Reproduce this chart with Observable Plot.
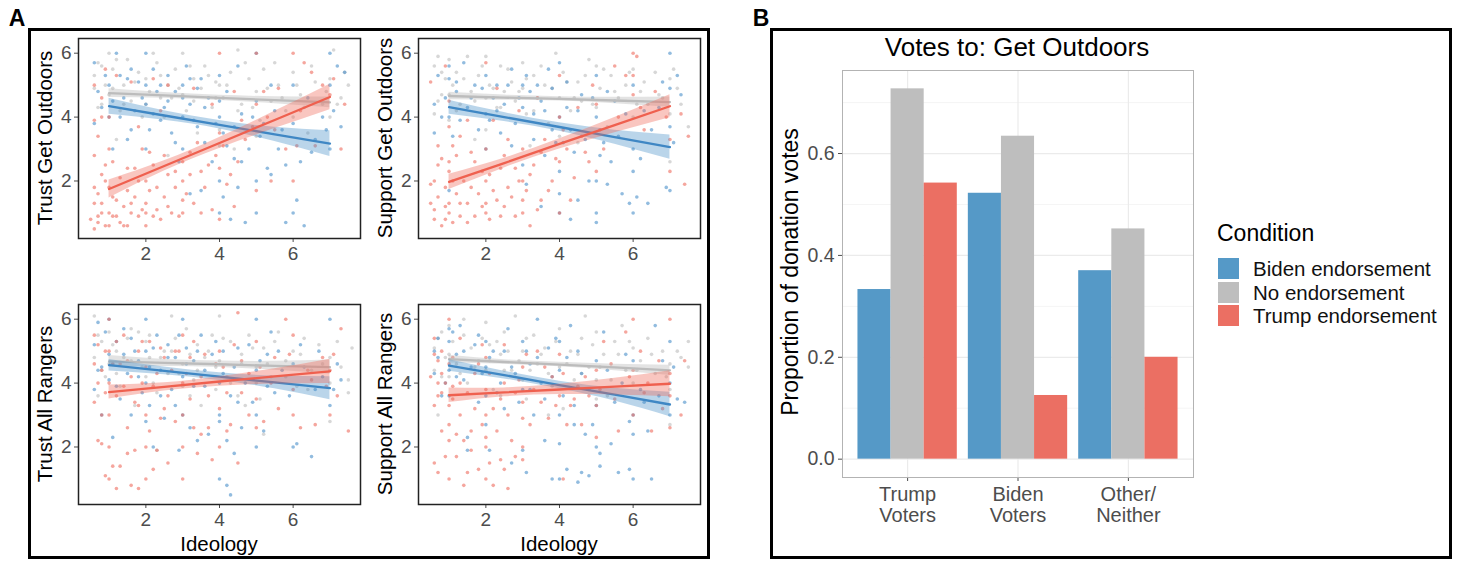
<!DOCTYPE html>
<html><head><meta charset="utf-8">
<script src="https://cdn.jsdelivr.net/npm/d3@7"></script>
<script src="https://cdn.jsdelivr.net/npm/@observablehq/plot@0.6"></script>
<style>
body{margin:0;background:#fff;font-family:"Liberation Sans",Arial,sans-serif;}
#root{position:relative;width:1460px;height:561px;overflow:hidden;background:#fff;}
.box{position:absolute;border:3px solid #000;box-sizing:border-box;}
.lab{position:absolute;white-space:nowrap;color:#111;line-height:1;}
.rot{transform:translate(-50%,-50%) rotate(-90deg);}
.ctr{transform:translate(-50%,-50%);}
.plot{position:absolute;}
</style></head><body><div id="root"></div>
<script>
// ---------- Panel A data ----------
const conditions = ["Biden endorsement", "No endorsement", "Trump endorsement"];
const xTicksA = [2, 4, 6];
const yTicksA = [2, 4, 6];
const fitX = [1, 2.5, 4, 5.5, 7];

// Trust Get Outdoors
const tgoBiden = [[0.6,5.7],[0.7,4.8],[0.6,3.8],[0.8,4.3],[1.0,5.0],[1.0,4.0],[1.2,6.0],[1.3,5.3],[1.4,4.6],[1.5,5.2],[1.6,3.6],[1.7,4.2],[1.8,5.1],[2.0,6.0],[2.0,5.0],[2.0,4.4],[2.0,3.0],[2.2,5.5],[2.3,4.8],[2.4,3.9],[2.5,4.3],[2.6,5.3],[2.7,3.5],[2.8,4.8],[3.0,5.0],[3.0,4.0],[3.0,3.0],[3.1,5.6],[3.2,4.4],[3.4,3.7],[3.5,5.2],[3.6,3.2],[3.7,4.6],[3.8,2.6],[4.0,5.3],[4.0,4.0],[4.0,2.0],[4.0,1.0],[4.1,3.5],[4.2,4.8],[4.3,0.8],[4.4,2.7],[4.5,1.8],[4.6,4.1],[4.7,0.7],[4.8,3.0],[5.0,6.0],[5.0,4.5],[5.0,2.0],[5.0,1.0],[5.1,3.4],[5.3,2.4],[5.5,4.2],[5.6,3.0],[5.8,2.5],[6.0,5.0],[6.0,3.8],[6.0,1.0],[6.1,1.4],[6.3,0.6],[6.4,4.6],[6.6,3.3],[6.8,4.0],[7.0,6.0],[7.0,3.0],[7.1,4.2],[7.2,5.6],[7.4,5.4],[7.3,3.7],[1.1,3.0],[2.9,2.6],[3.5,1.7],[4.5,5.6],[5.4,2.2],[0.9,5.3],[1.1,4.5],[1.3,4.0],[1.5,3.3],[1.6,5.5],[1.9,4.6],[2.1,3.6],[2.2,4.1],[2.4,5.0],[2.6,4.5],[2.8,3.2],[3.0,4.6],[3.2,5.2],[3.3,3.9],[3.4,4.9],[3.6,4.3],[3.9,3.8],[4.0,4.5],[4.2,3.1],[4.4,3.7],[4.6,2.6],[4.9,4.0],[5.2,3.8],[5.4,5.0],[5.7,3.6],[6.2,2.6],[6.5,2.9],[6.9,3.6],[7.0,5.0],[3.2,1.6],[4.1,1.5],[5.8,0.7]];
const tgoNone = [[0.6,5.3],[0.7,5.7],[0.8,4.4],[0.6,4.9],[0.9,5.0],[1.0,6.0],[1.0,4.7],[1.1,5.5],[1.3,4.2],[1.4,5.0],[1.5,5.8],[1.6,4.5],[1.8,5.4],[1.9,4.0],[2.0,5.2],[2.1,4.8],[2.2,6.0],[2.4,5.3],[2.5,4.0],[2.6,5.0],[2.7,4.6],[2.8,5.5],[3.0,6.0],[3.0,4.7],[3.1,4.2],[3.3,5.2],[3.4,3.5],[3.5,4.9],[3.6,5.6],[3.8,4.3],[3.9,5.1],[4.0,3.6],[4.0,5.0],[4.1,4.6],[4.3,5.4],[4.4,3.0],[4.5,6.1],[4.6,4.4],[4.8,5.2],[5.0,4.8],[5.1,3.9],[5.2,5.5],[5.4,4.5],[5.6,5.0],[5.8,4.2],[6.0,5.4],[6.0,4.0],[6.2,4.7],[6.4,3.5],[6.6,5.1],[6.8,4.4],[7.0,5.2],[7.0,4.0],[7.1,6.1],[7.3,4.6],[7.5,5.0],[2.6,2.8],[1.2,3.3],[0.7,4.3],[0.8,5.6],[1.1,4.9],[1.2,5.8],[1.4,4.4],[1.7,5.1],[2.0,4.4],[2.3,5.7],[2.4,4.6],[2.9,4.9],[3.2,5.6],[3.3,4.5],[3.7,5.3],[3.9,4.6],[4.2,5.0],[4.5,4.2],[4.7,5.7],[4.9,4.3],[5.3,4.9],[5.5,5.7],[5.7,4.6],[6.1,5.0],[6.3,4.3],[6.5,5.6],[6.9,4.8],[7.2,4.4],[7.4,5.4],[4.0,3.1],[5.0,3.4]];
const tgoTrump = [[0.6,0.5],[0.7,0.7],[0.8,1.0],[0.6,1.3],[0.9,0.6],[0.7,1.6],[0.8,2.2],[0.6,2.8],[0.9,2.5],[0.7,3.4],[0.6,3.9],[0.8,4.6],[0.6,5.0],[1.0,0.6],[1.0,1.0],[1.0,1.8],[1.0,3.0],[1.0,4.0],[1.1,0.9],[1.2,1.4],[1.3,0.7],[1.3,2.1],[1.4,1.2],[1.5,1.7],[1.5,0.6],[1.6,1.0],[1.7,2.4],[1.7,1.5],[1.8,0.9],[1.9,3.0],[1.6,5.1],[2.0,0.6],[2.0,1.0],[2.0,1.3],[2.0,2.0],[2.1,1.7],[2.2,2.5],[2.3,1.1],[2.4,0.8],[2.5,1.5],[2.6,2.2],[2.7,1.0],[2.8,1.8],[2.9,0.9],[3.0,1.0],[3.0,2.0],[3.0,2.6],[3.1,1.6],[3.2,2.9],[3.3,1.3],[3.5,2.3],[3.6,1.8],[3.8,1.1],[3.9,2.8],[4.0,0.8],[4.0,2.4],[4.1,3.1],[4.2,1.9],[4.4,1.2],[4.5,2.6],[4.7,3.3],[4.9,3.7],[5.0,1.7],[5.2,4.8],[5.4,2.0],[5.6,4.9],[5.8,3.0],[6.0,6.0],[6.0,2.0],[6.1,3.1],[6.3,5.7],[6.5,5.4],[6.8,5.0],[7.0,4.7],[7.1,5.2],[7.3,3.0],[7.4,4.4],[5.0,6.0],[4.0,6.0],[2.4,4.2],[1.8,3.7],[2.6,5.0],[3.8,4.4],[4.4,4.8],[5.3,4.0],[1.2,5.3],[2.2,5.2],[3.3,4.9],[0.9,5.5],[0.5,0.8],[0.6,1.8],[0.7,0.9],[0.8,1.3],[0.9,2.0],[1.1,1.5],[1.2,0.9],[1.4,0.6],[1.5,2.4],[1.6,1.3],[1.8,2.0],[1.9,1.1],[2.1,2.9],[2.2,0.9],[2.3,1.8],[2.5,2.8],[2.6,1.2],[2.8,2.3],[3.0,1.4],[3.2,2.2],[3.4,3.2],[3.5,1.0],[3.7,2.5],[4.0,3.5],[4.3,2.2],[4.6,3.9],[5.0,4.4],[5.5,3.6],[6.2,4.2],[6.6,3.1],[0.8,4.0],[1.1,2.6]];
const tgoFit = [[4.34,4.05,3.76,3.46,3.17],[4.75,4.68,4.60,4.53,4.46],[1.75,2.47,3.19,3.91,4.63]];
const tgoHw  = [[0.25,0.15,0.13,0.22,0.40],[0.14,0.09,0.08,0.11,0.17],[0.28,0.16,0.17,0.27,0.40]];

// Support Get Outdoors
const sgoBiden = [[0.6,4.4],[0.6,3.5],[0.7,5.3],[0.8,4.0],[1.0,5.6],[1.0,5.2],[1.0,4.0],[1.0,1.7],[1.2,4.8],[1.3,3.9],[1.4,5.7],[1.5,4.3],[1.7,5.0],[1.8,3.6],[2.0,5.3],[2.0,4.1],[2.0,3.0],[2.2,4.6],[2.3,5.0],[2.4,3.5],[2.5,4.4],[2.7,5.5],[2.8,3.8],[3.0,5.0],[3.0,4.3],[3.0,2.5],[3.1,1.9],[3.2,4.8],[3.3,3.3],[3.5,4.5],[3.6,2.8],[3.7,5.5],[3.8,3.6],[4.0,5.7],[4.0,4.0],[4.0,2.3],[4.0,1.0],[4.0,1.6],[4.1,3.2],[4.2,4.3],[4.3,0.8],[4.4,2.9],[4.5,1.4],[4.6,4.7],[4.8,2.0],[5.0,5.3],[5.0,4.0],[5.0,2.0],[5.0,1.0],[5.0,0.7],[5.2,3.2],[5.4,2.6],[5.5,4.5],[5.7,1.6],[5.9,1.3],[6.0,5.0],[6.0,3.0],[6.0,1.0],[6.0,2.3],[6.1,1.5],[6.3,4.2],[6.5,3.6],[6.8,5.1],[7.0,6.0],[7.0,4.9],[7.0,3.7],[7.0,1.7],[7.2,5.3],[7.3,4.7],[6.9,1.8],[0.9,4.6],[1.1,3.4],[1.2,5.1],[1.6,4.6],[1.9,4.9],[2.1,3.9],[2.3,4.2],[2.6,5.0],[2.7,3.1],[2.9,4.6],[3.1,5.3],[3.3,4.1],[3.4,5.0],[3.6,4.2],[3.8,4.9],[3.9,3.2],[4.2,5.1],[4.3,3.6],[4.5,4.2],[4.7,3.3],[4.9,4.6],[5.1,2.8],[5.3,4.8],[5.6,3.4],[5.8,4.1],[6.2,2.7],[6.4,1.3],[6.7,4.3],[7.1,3.2],[3.5,1.2],[5.3,1.9]];
const sgoNone = [[0.6,5.6],[0.6,4.1],[0.7,5.9],[0.8,4.7],[0.9,5.2],[1.0,5.8],[1.0,4.7],[1.0,3.9],[1.2,5.4],[1.3,4.4],[1.5,5.9],[1.6,4.8],[1.8,5.3],[2.0,5.9],[2.0,4.6],[2.1,5.0],[2.3,4.3],[2.4,5.6],[2.5,4.8],[2.7,5.1],[2.8,4.5],[3.0,5.7],[3.0,4.9],[3.1,4.1],[3.3,5.3],[3.4,4.6],[3.6,5.0],[3.7,3.8],[3.9,6.0],[4.0,4.6],[4.0,3.4],[4.1,5.4],[4.3,4.2],[4.5,5.1],[4.6,4.5],[4.8,5.8],[5.0,5.6],[5.0,4.3],[5.1,4.9],[5.3,3.7],[5.4,5.3],[5.6,4.6],[5.8,5.0],[6.0,4.0],[6.0,5.5],[6.2,4.8],[6.4,4.4],[6.6,5.4],[6.8,4.6],[7.0,5.2],[7.0,2.6],[7.0,4.1],[7.2,4.9],[7.5,3.7],[3.2,3.1],[1.7,3.3],[0.7,4.5],[0.8,5.4],[1.1,5.0],[1.2,4.2],[1.4,5.2],[1.7,4.5],[1.9,5.6],[2.2,4.9],[2.4,4.3],[2.6,5.5],[2.9,4.8],[3.1,5.2],[3.3,4.2],[3.5,5.6],[3.8,4.9],[4.2,5.1],[4.4,4.6],[4.7,5.3],[4.9,4.4],[5.2,5.5],[5.5,4.8],[5.9,5.4],[6.1,4.4],[6.3,5.1],[6.7,4.7],[7.1,5.5],[7.3,4.4],[4.5,3.2],[2.0,3.6]];
const sgoTrump = [[0.5,1.3],[0.6,1.1],[0.6,2.0],[0.7,2.5],[0.7,3.1],[0.5,5.1],[0.8,0.6],[0.9,0.8],[0.9,1.8],[1.0,1.0],[1.0,1.3],[1.0,2.3],[1.0,2.6],[1.0,3.7],[1.0,4.5],[1.1,3.1],[1.2,1.6],[1.3,0.9],[1.4,2.0],[1.5,1.3],[1.6,2.9],[1.7,0.9],[1.8,1.6],[1.9,2.3],[2.0,1.0],[2.0,1.3],[2.0,2.0],[2.0,3.0],[2.0,5.7],[2.1,0.8],[2.2,1.7],[2.4,2.4],[2.5,1.2],[2.6,3.3],[2.7,1.5],[2.8,0.9],[2.9,2.0],[3.0,1.0],[3.0,2.0],[3.0,3.0],[3.1,1.7],[3.2,0.6],[3.3,2.5],[3.5,1.4],[3.6,3.3],[3.8,2.0],[3.9,2.7],[4.0,1.0],[4.0,4.0],[4.0,5.3],[4.2,3.0],[4.4,2.1],[4.6,3.4],[4.8,2.6],[5.0,2.3],[5.0,4.4],[5.2,3.0],[5.5,5.6],[5.8,5.3],[6.0,6.0],[6.0,5.3],[6.0,4.7],[6.1,5.9],[6.3,3.6],[6.6,4.8],[6.9,4.0],[7.0,2.3],[7.0,3.3],[7.3,4.1],[7.5,3.4],[7.4,1.9],[2.9,4.2],[1.5,3.9],[3.4,4.6],[0.9,5.6],[2.3,4.9],[4.9,5.0],[0.5,1.9],[0.6,0.8],[0.7,1.5],[0.8,2.7],[0.9,1.2],[1.1,0.7],[1.1,2.0],[1.2,2.8],[1.3,1.3],[1.5,0.7],[1.6,1.8],[1.7,2.6],[1.9,1.2],[2.1,2.2],[2.3,1.4],[2.4,0.9],[2.5,2.8],[2.6,1.8],[2.8,2.4],[3.0,1.4],[3.2,2.2],[3.4,1.1],[3.5,2.9],[3.7,1.7],[4.0,2.6],[4.1,3.6],[4.3,1.4],[4.5,4.3],[4.7,2.9],[5.1,3.6],[5.6,4.0],[6.2,4.3],[1.3,3.4],[2.2,3.9]];
const sgoFit = [[4.31,4.00,3.69,3.37,3.06],[4.66,4.61,4.57,4.52,4.47],[1.97,2.56,3.16,3.75,4.34]];
const sgoHw  = [[0.22,0.14,0.13,0.22,0.38],[0.12,0.08,0.07,0.10,0.16],[0.24,0.15,0.16,0.24,0.36]];

// Trust All Rangers
const tarBiden = [[0.6,5.2],[0.6,3.8],[0.7,5.9],[0.8,4.5],[0.8,3.0],[1.0,6.0],[1.0,4.9],[1.0,4.1],[1.2,5.3],[1.3,3.5],[1.4,5.7],[1.5,4.3],[1.6,3.0],[1.7,5.0],[1.8,4.7],[1.9,3.7],[2.0,6.0],[2.0,5.0],[2.0,4.0],[2.0,2.8],[2.1,3.3],[2.3,5.5],[2.4,4.4],[2.5,2.9],[2.6,5.2],[2.7,3.8],[2.8,4.8],[3.0,6.0],[3.0,4.2],[3.0,3.0],[3.1,5.1],[3.2,2.6],[3.3,4.7],[3.5,5.5],[3.6,3.9],[3.7,2.4],[3.8,4.9],[4.0,4.0],[4.0,3.0],[4.0,1.0],[4.0,2.8],[4.1,5.0],[4.2,0.8],[4.2,2.2],[4.3,0.5],[4.4,4.5],[4.5,3.4],[4.6,2.6],[4.8,5.2],[5.0,6.0],[5.0,4.4],[5.0,3.0],[5.0,2.0],[5.2,2.5],[5.3,4.9],[5.4,5.6],[5.5,3.7],[5.7,4.4],[6.0,2.0],[6.0,4.6],[6.1,2.1],[6.2,5.2],[6.5,1.7],[6.6,3.8],[6.8,4.2],[7.0,6.0],[7.0,3.3],[7.2,4.6],[7.3,4.1],[1.1,2.3],[2.9,1.9],[0.7,4.4],[0.9,5.6],[1.1,4.6],[1.2,3.9],[1.4,4.9],[1.6,5.4],[1.8,4.2],[2.1,4.5],[2.2,5.1],[2.4,3.6],[2.6,4.8],[2.8,3.3],[2.9,5.5],[3.1,4.6],[3.3,3.9],[3.4,5.0],[3.6,4.4],[3.9,5.3],[4.1,4.3],[4.3,3.6],[4.5,5.1],[4.7,4.0],[4.9,3.4],[5.1,4.7],[5.3,3.9],[5.6,5.0],[5.9,3.6],[6.3,4.5],[6.7,5.0],[7.1,3.8],[2.2,2.0],[3.4,2.2],[4.4,1.8]];
const tarNone = [[0.6,6.1],[0.6,4.8],[0.7,3.6],[0.8,5.3],[0.9,4.2],[1.0,5.6],[1.0,4.6],[1.2,5.0],[1.3,3.9],[1.5,5.4],[1.6,4.7],[1.7,3.3],[1.8,5.6],[2.0,5.3],[2.0,4.2],[2.1,4.8],[2.3,1.9],[2.3,3.7],[2.5,5.0],[2.6,4.3],[2.7,6.1],[2.8,5.4],[3.0,4.6],[3.0,3.9],[3.1,5.7],[3.3,4.1],[3.4,5.2],[3.5,3.3],[3.6,4.8],[3.8,5.5],[3.9,3.8],[4.0,6.1],[4.0,4.7],[4.2,4.2],[4.3,5.3],[4.5,3.6],[4.6,4.9],[4.8,5.5],[5.0,4.5],[5.1,3.5],[5.2,5.1],[5.4,4.2],[5.6,5.6],[5.8,4.7],[6.0,5.0],[6.1,3.9],[6.3,5.4],[6.5,4.4],[6.7,5.2],[7.0,4.8],[7.0,2.8],[7.0,4.0],[7.2,5.3],[7.5,4.1],[7.5,3.7],[7.6,5.1],[5.2,2.4],[0.7,5.5],[0.8,4.4],[1.1,5.2],[1.2,4.3],[1.4,4.8],[1.6,5.7],[1.9,4.5],[2.1,5.5],[2.2,4.0],[2.4,4.8],[2.7,5.0],[2.9,4.3],[3.2,4.9],[3.4,4.4],[3.7,5.0],[3.9,4.5],[4.1,5.4],[4.3,4.0],[4.6,4.6],[4.9,5.1],[5.0,4.0],[5.3,4.6],[5.5,5.3],[5.8,4.2],[6.2,4.9],[6.4,3.8],[6.8,4.6],[7.3,4.5],[3.2,3.6],[4.7,3.3]];
const tarTrump = [[0.6,5.5],[0.6,4.6],[0.6,3.4],[0.7,2.2],[0.7,4.0],[0.8,3.0],[0.8,2.1],[0.9,5.0],[0.9,1.1],[1.0,6.0],[1.0,5.0],[1.0,4.0],[1.0,3.0],[1.0,2.0],[1.0,1.0],[1.1,1.4],[1.2,0.7],[1.2,3.6],[1.3,4.6],[1.3,1.4],[1.4,5.5],[1.5,2.6],[1.6,0.8],[1.6,4.2],[1.7,1.9],[1.8,0.7],[1.8,3.3],[1.9,5.3],[2.0,2.0],[2.0,3.0],[2.0,4.5],[2.0,1.0],[2.1,2.5],[2.2,3.9],[2.3,1.9],[2.4,5.1],[2.5,3.2],[2.6,1.5],[2.7,4.4],[2.8,2.8],[3.0,5.5],[3.0,3.0],[3.0,2.0],[3.0,1.0],[3.1,4.3],[3.2,3.5],[3.3,5.3],[3.4,1.8],[3.5,2.4],[3.6,4.9],[3.7,2.6],[3.8,1.6],[4.0,5.0],[4.0,2.0],[4.0,3.2],[4.1,4.5],[4.2,2.5],[4.4,5.2],[4.5,1.5],[4.5,6.2],[4.6,3.7],[4.8,4.3],[5.0,3.5],[5.0,5.3],[5.2,2.8],[5.4,4.0],[5.6,3.2],[5.8,6.0],[5.9,4.9],[6.0,3.0],[6.0,5.5],[6.2,2.6],[6.4,4.4],[6.6,2.7],[6.8,4.8],[7.0,3.0],[7.0,4.4],[7.2,3.6],[7.3,5.7],[7.5,2.5],[5.0,2.6],[2.9,5.0],[0.7,5.2],[0.8,4.4],[0.9,3.7],[1.1,4.6],[1.2,5.3],[1.4,3.9],[1.5,4.7],[1.7,3.4],[1.8,5.0],[1.9,4.0],[2.1,5.3],[2.3,4.3],[2.4,2.9],[2.5,4.8],[2.6,3.6],[2.8,5.0],[3.0,4.0],[3.2,4.8],[3.3,2.6],[3.5,4.2],[3.7,3.6],[3.9,4.6],[4.2,3.7],[4.3,2.7],[4.6,4.7],[4.8,3.0],[5.1,4.5],[5.5,4.8],[6.0,3.8],[6.5,4.1],[6.9,3.9],[7.1,4.9],[1.5,1.8],[2.2,1.3]];
const tarFit = [[4.56,4.38,4.20,4.02,3.84],[4.68,4.63,4.59,4.54,4.50],[3.72,3.88,4.05,4.21,4.37]];
const tarHw  = [[0.18,0.12,0.12,0.20,0.36],[0.18,0.11,0.10,0.14,0.22],[0.22,0.13,0.15,0.24,0.38]];

// Support All Rangers
const sarBiden = [[0.6,5.0],[0.6,4.3],[0.7,5.4],[0.8,3.6],[1.0,5.7],[1.0,5.3],[1.0,4.4],[1.0,3.6],[1.2,4.9],[1.3,5.8],[1.4,4.1],[1.5,2.3],[1.5,1.9],[1.7,5.2],[1.8,3.4],[2.0,5.3],[2.0,4.5],[2.0,3.6],[2.0,2.7],[2.1,1.9],[2.2,5.0],[2.4,4.0],[2.5,3.2],[2.6,5.7],[2.8,4.3],[3.0,5.3],[3.0,3.8],[3.0,1.9],[3.2,4.6],[3.3,3.0],[3.4,6.0],[3.5,4.0],[3.6,2.2],[3.8,1.0],[3.9,5.4],[4.0,5.3],[4.0,4.4],[4.0,3.0],[4.0,2.1],[4.0,1.0],[4.1,3.6],[4.2,1.3],[4.3,5.8],[4.4,2.7],[4.6,4.3],[4.6,1.2],[4.7,2.4],[4.8,1.1],[5.0,4.7],[5.0,3.3],[5.0,2.0],[5.1,1.8],[5.1,1.4],[5.2,5.6],[5.4,2.1],[5.6,1.2],[5.7,4.0],[5.9,2.8],[6.0,4.7],[6.0,3.0],[6.0,2.4],[6.0,1.0],[6.3,3.4],[6.5,1.0],[6.6,5.8],[6.8,4.7],[7.0,5.3],[7.0,4.0],[7.0,3.0],[7.2,3.5],[7.4,3.4],[3.1,1.2],[2.7,1.5],[0.7,4.8],[0.9,4.0],[1.1,5.6],[1.2,4.2],[1.4,5.0],[1.6,4.5],[1.8,5.5],[1.9,4.3],[2.1,4.8],[2.3,3.7],[2.5,5.0],[2.7,4.5],[2.9,3.4],[3.1,5.0],[3.2,3.8],[3.4,4.8],[3.6,3.5],[3.7,5.1],[3.8,4.2],[4.2,4.8],[4.4,3.3],[4.5,5.0],[4.8,3.8],[4.9,2.7],[5.3,4.4],[5.5,3.4],[5.8,4.9],[6.2,3.8],[6.4,2.5],[6.7,3.6],[7.1,4.5],[4.5,0.9],[5.9,1.3]];
const sarNone = [[0.6,5.1],[0.6,4.4],[0.7,3.0],[0.8,5.6],[0.9,4.8],[1.0,5.8],[1.0,4.2],[1.1,5.3],[1.2,4.6],[1.4,5.5],[1.5,4.0],[1.6,5.1],[1.8,4.7],[2.0,5.9],[2.0,4.4],[2.1,5.2],[2.2,3.8],[2.4,4.9],[2.5,5.6],[2.7,4.4],[2.8,6.1],[3.0,5.0],[3.0,4.1],[3.1,3.5],[3.3,5.5],[3.4,4.6],[3.6,5.1],[3.8,3.9],[4.0,5.7],[4.0,4.5],[4.1,3.2],[4.3,5.0],[4.4,4.1],[4.6,5.4],[4.7,6.1],[4.8,4.5],[5.0,5.6],[5.0,4.1],[5.2,4.9],[5.3,3.6],[5.5,5.3],[5.7,5.8],[5.8,4.4],[6.0,5.1],[6.0,4.0],[6.2,4.7],[6.4,5.4],[6.6,4.3],[6.8,5.0],[7.0,4.6],[7.0,2.7],[7.0,3.8],[7.2,5.0],[7.5,5.3],[7.5,4.5],[3.7,3.0],[0.7,5.4],[0.8,4.2],[1.0,4.9],[1.3,4.3],[1.4,6.0],[1.7,4.5],[1.9,5.4],[2.1,4.7],[2.3,5.3],[2.5,4.4],[2.6,5.0],[2.9,4.7],[3.1,5.4],[3.2,4.4],[3.5,4.9],[3.7,4.3],[3.9,5.3],[4.2,4.6],[4.5,4.9],[4.6,4.3],[4.9,5.2],[5.1,4.5],[5.4,4.1],[5.6,4.9],[5.9,5.3],[6.1,4.4],[6.5,4.9],[6.9,4.2],[7.3,4.8],[2.4,3.6],[5.0,3.5]];
const sarTrump = [[0.6,5.4],[0.6,3.3],[0.6,1.5],[0.7,4.7],[0.7,4.0],[0.7,1.2],[0.8,5.0],[0.8,4.3],[0.8,3.7],[0.9,1.7],[1.0,6.0],[1.0,4.6],[1.0,3.3],[1.0,2.7],[1.0,2.2],[1.0,1.0],[1.1,3.9],[1.2,1.7],[1.3,3.0],[1.4,2.2],[1.4,0.8],[1.5,1.2],[1.6,2.5],[1.7,4.3],[1.8,1.3],[1.9,5.2],[2.0,3.0],[2.0,2.3],[2.0,2.0],[2.0,1.0],[2.0,4.8],[2.1,1.5],[2.2,0.8],[2.3,2.5],[2.4,3.5],[2.5,1.3],[2.6,0.7],[2.7,2.2],[2.8,1.7],[2.9,4.1],[3.0,2.0],[3.0,1.6],[3.0,2.9],[3.0,4.5],[3.2,2.7],[3.4,5.0],[3.5,3.4],[3.7,2.9],[3.8,4.2],[4.0,3.6],[4.0,4.9],[4.1,1.0],[4.2,2.7],[4.3,3.3],[4.5,3.9],[4.6,2.7],[4.8,3.6],[5.0,3.3],[5.0,2.3],[5.0,4.4],[5.2,5.3],[5.4,4.6],[5.6,2.5],[5.8,5.6],[6.0,6.0],[6.0,3.0],[6.0,4.4],[6.2,5.0],[6.4,4.0],[6.5,2.5],[6.7,4.7],[7.0,6.0],[7.0,3.6],[7.0,2.6],[7.3,3.0],[7.4,4.7],[1.3,5.4],[2.5,5.2],[0.5,4.2],[0.6,4.9],[0.7,3.6],[0.8,2.5],[0.9,4.0],[1.1,3.5],[1.1,4.8],[1.2,2.4],[1.3,4.0],[1.5,3.7],[1.6,1.9],[1.7,3.2],[1.8,4.6],[1.9,2.7],[2.0,3.8],[2.1,4.3],[2.2,3.2],[2.4,1.6],[2.5,4.0],[2.6,3.0],[2.8,3.7],[3.0,3.4],[3.1,4.9],[3.3,3.8],[3.6,4.5],[3.9,3.3],[4.1,4.3],[4.4,3.5],[4.7,4.2],[5.1,3.8],[5.5,3.5],[5.9,4.2],[6.3,3.7],[6.8,3.2],[7.0,4.3]];
const sarFit = [[4.55,4.25,3.94,3.64,3.33],[4.75,4.66,4.58,4.49,4.40],[3.62,3.71,3.80,3.89,3.98]];
const sarHw  = [[0.18,0.12,0.12,0.20,0.38],[0.12,0.07,0.07,0.10,0.16],[0.23,0.14,0.16,0.26,0.41]];

// ---------- Panel B data ----------
const voterGroups = ["Trump\nVoters", "Biden\nVoters", "Other/\nNeither"];
const bidenVotes = [0.333, 0.522, 0.370];
const noneVotes  = [0.727, 0.634, 0.452];
const trumpVotes = [0.542, 0.125, 0.200];
const yTicksB = [0, 0.2, 0.4, 0.6];
const yMinorB = [0.1, 0.3, 0.5, 0.7];

// ---------- styling ----------
const FONT = '"Liberation Sans", Arial, sans-serif';
const pointColors = ["#4a90c9", "#bdbdbd", "#ef6b5d"];
const lineColors  = ["#3f87c4", "#bcbcbc", "#ef604f"];
const bandColors  = ["#4a90c9", "#b5b5b5", "#f06a5a"];
const barColors   = ["#5599c7", "#bebebe", "#eb6f63"];

const root = document.getElementById("root");
function addLabel(text, x, y, size, cls, extra) {
  const d = document.createElement("div");
  d.className = "lab " + cls;
  d.textContent = text;
  d.style.left = x + "px"; d.style.top = y + "px"; d.style.fontSize = size + "px";
  if (extra) Object.assign(d.style, extra);
  root.appendChild(d);
  return d;
}
function addBox(l, t, w, h) {
  const d = document.createElement("div");
  d.className = "box";
  Object.assign(d.style, {left: l + "px", top: t + "px", width: w + "px", height: h + "px"});
  root.appendChild(d);
}
addBox(28, 28, 682, 531);
addBox(770, 28, 682, 531);
addLabel("A", 17, 18, 23, "ctr", {fontWeight: "bold", color: "#000"});
addLabel("B", 761, 18, 23, "ctr", {fontWeight: "bold", color: "#000"});

function scatter(series, fit, hw, fx, fy, ylab, showX) {
  const W = 282, H = 200, ml = 40, mt = 10, mr = 14, mb = 34;
  const marks = [];
  [1, 0, 2].forEach(k => {
    marks.push(Plot.dot(series[k].map(([x, y]) => ({x, y})),
      {x: "x", y: "y", r: 1.8, fill: pointColors[k], fillOpacity: 0.6, stroke: "none"}));
  });
  [1, 0, 2].forEach(k => {
    const rows = fitX.map((x, i) => ({x, y: fit[k][i], lo: fit[k][i] - hw[k][i], hi: fit[k][i] + hw[k][i]}));
    marks.push(Plot.areaY(rows, {x: "x", y1: "lo", y2: "hi", fill: bandColors[k], fillOpacity: 0.38, curve: "natural"}));
    marks.push(Plot.line(rows, {x: "x", y: "y", stroke: lineColors[k], strokeWidth: 2.3}));
  });
  marks.push(Plot.frame({stroke: "#222", strokeWidth: 1.5}));
  const svg = Plot.plot({
    width: W + ml + mr, height: H + mt + mb,
    marginLeft: ml, marginTop: mt, marginRight: mr, marginBottom: mb,
    style: {fontFamily: FONT, fontSize: "19px", color: "#4d4d4d", background: "transparent", overflow: "visible"},
    x: {domain: [0.17, 7.83], ticks: xTicksA, tickFormat: d3.format("d"), tickSize: 4, tickPadding: 4, label: null},
    y: {domain: [0.2, 6.46], ticks: yTicksA, tickFormat: d3.format("d"), tickSize: 4, tickPadding: 3, label: null},
    marks
  });
  svg.classList.add("plot");
  svg.style.left = (fx - ml) + "px";
  svg.style.top = (fy - mt) + "px";
  root.appendChild(svg);
  addLabel(ylab, fx - 33, fy + H / 2, 20.5, "rot", {color: "#000"});
  if (showX) addLabel("Ideology", fx + W / 2, fy + H + 40, 20.5, "ctr", {color: "#000"});
}

scatter([tgoBiden, tgoNone, tgoTrump], tgoFit, tgoHw, 78, 38, "Trust Get Outdoors", false);
scatter([sgoBiden, sgoNone, sgoTrump], sgoFit, sgoHw, 418, 38, "Support Get Outdoors", false);
scatter([tarBiden, tarNone, tarTrump], tarFit, tarHw, 78, 304, "Trust All Rangers", true);
scatter([sarBiden, sarNone, sarTrump], sarFit, sarHw, 418, 304, "Support All Rangers", true);

// ---------- Panel B ----------
(function () {
  const fx = 842, fy = 70, W = 351, H = 407, ml = 72, mt = 8, mr = 14, mb = 62;
  const series = [bidenVotes, noneVotes, trumpVotes];
  const groupIdx = voterGroups.map((_, i) => i);
  const marks = [
    Plot.ruleY(yMinorB, {stroke: "#f2f2f2", strokeWidth: 0.8}),
    Plot.ruleY(yTicksB, {stroke: "#ebebeb", strokeWidth: 1.2}),
    Plot.ruleX(groupIdx, {stroke: "#ebebeb", strokeWidth: 1.2})
  ];
  series.forEach((vals, j) => {
    const rows = vals.map((v, i) => ({x1: i + (j - 1.5) * 0.3, x2: i + (j - 0.5) * 0.3, v}));
    marks.push(Plot.rectY(rows, {x1: "x1", x2: "x2", y1: 0, y2: "v", fill: barColors[j]}));
  });
  marks.push(Plot.text(groupIdx, {x: d => d, text: d => voterGroups[d], frameAnchor: "bottom",
    lineAnchor: "top", dy: 8, lineHeight: 1.08, fontSize: 20, fill: "#4d4d4d"}));
  marks.push(Plot.frame({stroke: "#b3b3b3", strokeWidth: 1}));
  const svg = Plot.plot({
    width: W + ml + mr, height: H + mt + mb,
    marginLeft: ml, marginTop: mt, marginRight: mr, marginBottom: mb,
    style: {fontFamily: FONT, fontSize: "19.5px", color: "#4d4d4d", background: "transparent", overflow: "visible"},
    x: {domain: [-0.59, 2.59], ticks: groupIdx, tickFormat: () => "", tickSize: 4, tickPadding: 0, label: null},
    y: {domain: [-0.036, 0.763], ticks: yTicksB, tickFormat: d3.format(".1f"), tickSize: 4, tickPadding: 4, label: null},
    marks
  });
  svg.classList.add("plot");
  svg.style.left = (fx - ml) + "px";
  svg.style.top = (fy - mt) + "px";
  root.appendChild(svg);
  addLabel("Votes to: Get Outdoors", 1017, 47, 26, "ctr", {color: "#000"});
  addLabel("Proportion of donation votes", 790, 272, 23, "rot", {color: "#000"});
  // legend
  addLabel("Condition", 1217, 222, 23, "", {color: "#000"});
  conditions.forEach((c, j) => {
    const y = 258 + j * 23.5;
    const sw = document.createElement("div");
    Object.assign(sw.style, {position: "absolute", left: "1218px", top: y + "px", width: "21px", height: "21px", background: barColors[j]});
    root.appendChild(sw);
    addLabel(c, 1253, y + 1, 20.5, "", {color: "#111"});
  });
})();
</script>
</body></html>
